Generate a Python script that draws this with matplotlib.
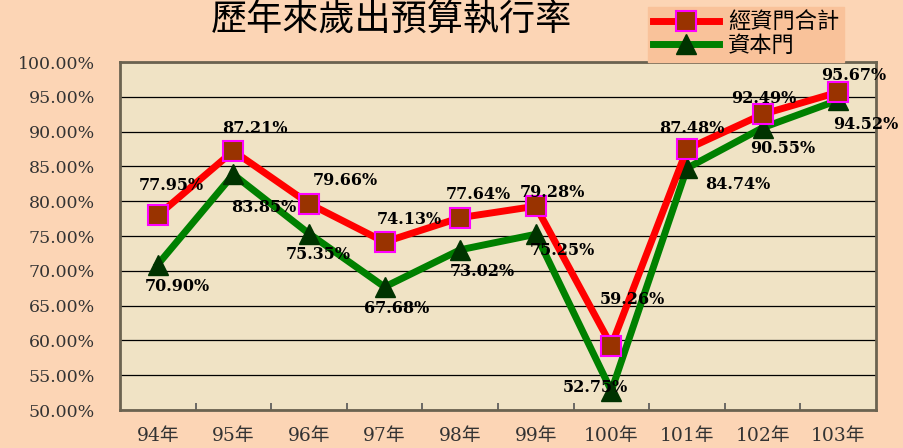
import matplotlib.pyplot as plt
import numpy as np

plt.rcParams['font.family'] = ['DejaVu Serif', 'Noto Sans CJK TC']

years = ["94年", "95年", "96年", "97年", "98年", "99年", "100年", "101年", "102年", "103年"]
total = [77.95, 87.21, 79.66, 74.13, 77.64, 79.28, 59.26, 87.48, 92.49, 95.67]
capital = [70.90, 83.85, 75.35, 67.68, 73.02, 75.25, 52.75, 84.74, 90.55, 94.52]

# label offsets in pixels (dx, dy)
total_off = [(14, 30), (22, 23), (36, 23), (25, 23), (18, 23), (17, 14), (21, 46), (5, 21), (1, 16), (16, 17)]
cap_off = [(20, -22), (30, -33), (9, -21), (12, -22), (22, -22), (27, -16), (-16, 3), (51, -16), (20, -21), (28, -24)]

fig = plt.figure(figsize=(9.04, 4.48), dpi=100, facecolor="#FCD5B5")
ax = fig.add_axes([0.1327, 0.0848, 0.8363, 0.7768])
ax.set_facecolor("#F0E3C5")

x = np.arange(len(years))
ax.plot(x, total, color="#FF0000", lw=5, marker="s", ms=14, mfc="#993300",
        mec="#FF00FF", mew=1.5, label="經資門合計", zorder=4)
ax.plot(x, capital, color="#008000", lw=5, marker="^", ms=15, mfc="#003300",
        mec="#003300", label="資本門", zorder=3)

for i in range(len(years)):
    ax.annotate(f"{total[i]:.2f}%", (x[i], total[i]), xytext=total_off[i],
                textcoords="offset pixels", ha="center", va="center",
                fontsize=11.5, fontweight="bold", zorder=6)
    ax.annotate(f"{capital[i]:.2f}%", (x[i], capital[i]), xytext=cap_off[i],
                textcoords="offset pixels", ha="center", va="center",
                fontsize=11.5, fontweight="bold", zorder=6)

ax.set_xlim(-0.5, len(years) - 0.5)
ax.set_ylim(50, 100)
ax.set_yticks(np.arange(50, 101, 5))
ax.set_yticklabels([f"{v:.2f}%" for v in np.arange(50, 101, 5)], fontsize=12.5, color="#333333")
ax.set_xticks(x)
ax.set_xticklabels(years, fontsize=13.5, color="#333333")
ax.set_xticks(np.arange(0.5, len(years) - 1, 1), minor=True)
ax.tick_params(axis="x", which="major", length=0, pad=12)
ax.tick_params(axis="x", which="minor", length=5, direction="in", width=1.2, color="#555555")
ax.tick_params(axis="y", length=0, pad=18)
ax.grid(axis="y", color="black", lw=0.9)
ax.set_axisbelow(True)
for s in ax.spines.values():
    s.set_color("#6B6350")
    s.set_linewidth(2)

fig.text(0.433, 0.955, "歷年來歲出預算執行率", ha="center", va="center",
         fontsize=26, fontweight="medium", family=["Noto Sans CJK TC"])

leg = fig.legend(loc="upper left", bbox_to_anchor=(0.717, 0.985), frameon=True,
                 fancybox=False, prop={"family": ["Noto Sans CJK TC"], "size": 16},
                 handlelength=3.0, borderpad=0.2, labelspacing=0.0, handletextpad=0.4,
                 borderaxespad=0)
leg.get_frame().set_facecolor("#F9C29A")
leg.get_frame().set_edgecolor("#F9C29A")
leg.get_frame().set_alpha(1)

fig.savefig("out.png", dpi=100, facecolor=fig.get_facecolor())
